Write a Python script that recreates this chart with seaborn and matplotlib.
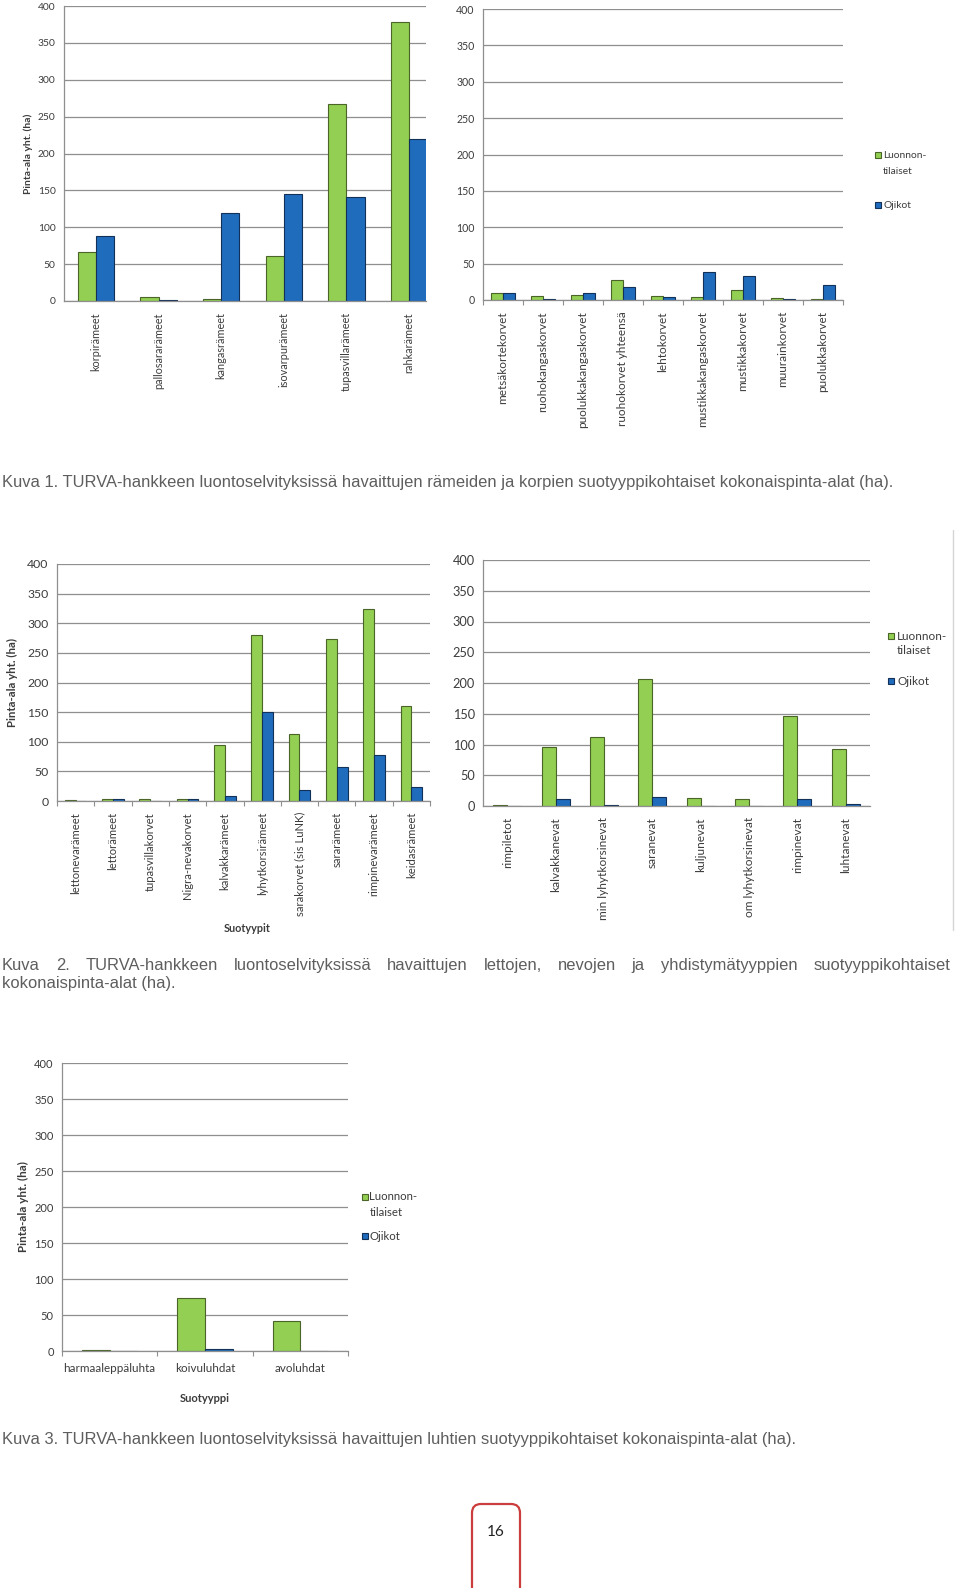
import numpy as np
import pandas as pd
import matplotlib
matplotlib.use("Agg")
import matplotlib.pyplot as plt
import seaborn as sns
from matplotlib.patches import Rectangle, FancyBboxPatch
from matplotlib.lines import Line2D

sns.set_theme(style="white")
plt.rcParams["font.family"] = ["Lato", "DejaVu Sans"]

# ---------------- data ----------------
series_names = ["Luonnontilaiset", "Ojikot"]
legend_labels = ["Luonnon-", "tilaiset", "Ojikot"]
yticks = [0, 50, 100, 150, 200, 250, 300, 350, 400]
ylabel_text = "Pinta-ala yht. (ha)"

c1_cats = ["korpirämeet", "pallosararämeet", "kangasrämeet", "isovarpurämeet",
           "tupasvillarämeet", "rahkarämeet"]
c1_nat = [67, 6, 3, 61, 267, 378]
c1_dit = [88, 1, 119, 145, 141, 220]

c2_cats = ["metsäkortekorvet", "ruohokangaskorvet", "puolukkakangaskorvet",
           "ruohokorvet yhteensä", "lehtokorvet", "mustikkakangaskorvet",
           "mustikkakorvet", "muurainkorvet", "puolukkakorvet"]
c2_nat = [9, 5, 7, 27, 5, 4, 14, 3, 1]
c2_dit = [9, 1, 10, 18, 4, 39, 33, 1, 20]

c3_cats = ["lettonevarämeet", "lettorämeet", "tupasvillakorvet", "Nigra-nevakorvet",
           "kalvakkarämeet", "lyhytkorsirämeet", "sarakorvet (sis LuNK)", "sararämeet",
           "rimpinevarämeet", "keidasrämeet"]
c3_nat = [2, 3, 4, 3, 95, 280, 113, 274, 324, 161]
c3_dit = [0, 3, 0, 3, 8, 150, 19, 58, 77, 24]

c4_cats = ["rimpiletot", "kalvakkanevat", "min lyhytkorsinevat", "saranevat",
           "kuljunevat", "om lyhytkorsinevat", "rimpinevat", "luhtanevat"]
c4_nat = [1, 96, 112, 207, 13, 11, 146, 93]
c4_dit = [0, 11, 2, 15, 0, 0, 11, 4]

c5_cats = ["harmaaleppäluhta", "koivuluhdat", "avoluhdat"]
c5_nat = [1, 73, 42]
c5_dit = [0, 3, 0]

cap1 = "Kuva 1. TURVA-hankkeen luontoselvityksissä havaittujen rämeiden ja korpien suotyyppikohtaiset kokonaispinta-alat (ha)."
cap2a = "Kuva 2. TURVA-hankkeen luontoselvityksissä havaittujen lettojen, nevojen ja yhdistymätyyppien suotyyppikohtaiset"
cap2b = "kokonaispinta-alat (ha)."
cap3 = "Kuva 3. TURVA-hankkeen luontoselvityksissä havaittujen luhtien suotyyppikohtaiset kokonaispinta-alat (ha)."
page_no = "16"

xlabel3 = "Suotyypit"
xlabel5 = "Suotyyppi"

# ---------------- style ----------------
GREEN = "#92CF52"
BLUE = "#1F6CBD"
GREEN_EDGE = "#4A6527"
BLUE_EDGE = "#123158"
GRID = "#8f8f8f"
TXT = "#3c3c3c"
CAP = "#5e5e5e"

W, H = 960, 1588
fig = plt.figure(figsize=(W / 100, H / 100), dpi=100)


def px_axes(x0, y0, x1, y1):
    return fig.add_axes([x0 / W, 1 - y1 / H, (x1 - x0) / W, (y1 - y0) / H])


def bar_chart(ax, cats, nat, dit, ytick_fs, xtick_fs, rot=90, bound_ticks=False,
              xlim=None):
    n = len(cats)
    df = pd.DataFrame({
        "cat": cats + cats,
        "val": nat + dit,
        "series": [series_names[0]] * n + [series_names[1]] * n,
    })
    sns.barplot(data=df, x="cat", y="val", hue="series", order=cats,
                hue_order=series_names, palette=[GREEN, BLUE], saturation=1,
                width=0.58, gap=0, errorbar=None, legend=False, ax=ax)
    for cont, ec in zip(ax.containers, [GREEN_EDGE, BLUE_EDGE]):
        for p in cont:
            p.set_edgecolor(ec)
            p.set_linewidth(0.8)
    ax.set_ylim(0, 400)
    ax.set_yticks(yticks)
    ax.set_yticklabels([str(v) for v in yticks], fontsize=ytick_fs, color=TXT)
    if xlim is None:
        ax.set_xlim(-0.5, n - 0.5)
    else:
        ax.set_xlim(*xlim)
    ax.set_xticks(range(n))
    ax.set_xticklabels(cats, rotation=rot, fontsize=xtick_fs, color=TXT,
                       va="top", ha="center")
    ax.tick_params(axis="x", length=0, pad=8)
    ax.tick_params(axis="y", length=0, pad=6)
    if bound_ticks:
        ax.set_xticks(np.arange(-0.5, n, 1.0), minor=True)
        ax.tick_params(axis="x", which="minor", length=3.5, width=0.8,
                       color=GRID, direction="out", bottom=True)
    ax.yaxis.grid(True, color=GRID, linewidth=0.9)
    ax.xaxis.grid(False)
    ax.set_axisbelow(True)
    for s in ["top", "right"]:
        ax.spines[s].set_visible(False)
    for s in ["left", "bottom"]:
        ax.spines[s].set_color(GRID)
        ax.spines[s].set_linewidth(0.9)
    ax.set_xlabel("")
    ax.set_ylabel("")
    ax.patch.set_alpha(0)


def set_ylabel(ax, fs, xfrac):
    ax.set_ylabel(ylabel_text, fontsize=fs, fontweight="bold", color=TXT)
    ax.yaxis.set_label_coords(xfrac, 0.5)


def manual_legend(xsq, sq, y1, y2, y3, xtext, fs):
    for yc, fc, ec, in [(y1, GREEN, GREEN_EDGE), (y3, BLUE, BLUE_EDGE)]:
        fig.add_artist(Rectangle((xsq / W, 1 - (yc + sq / 2) / H), sq / W, sq / H,
                                 transform=fig.transFigure, facecolor=fc,
                                 edgecolor=ec, linewidth=0.8))
    for yc, t in zip([y1, y2, y3], legend_labels):
        fig.text(xtext / W, 1 - yc / H, t, fontsize=fs, color=TXT,
                 ha="left", va="center")


# ---- chart 1 ----
ax1 = px_axes(64, 6, 426, 301)
bar_chart(ax1, c1_cats, c1_nat, c1_dit, 7.4, 7.8, xlim=(-0.51, 5.27))
set_ylabel(ax1, 7.4, -0.085)

# ---- chart 2 ----
ax2 = px_axes(483, 9, 843, 300)
bar_chart(ax2, c2_cats, c2_nat, c2_dit, 7.6, 8.5, bound_ticks=True)
manual_legend(875, 6, 155, 171.5, 205, 883, 7.4)

# ---- chart 3 ----
ax3 = px_axes(57, 564, 430, 801)
bar_chart(ax3, c3_cats, c3_nat, c3_dit, 8.8, 8.1, bound_ticks=True)
set_ylabel(ax3, 8.2, -0.105)
ax3.set_xlabel(xlabel3, fontsize=7.8, fontweight="bold", color=TXT)
ax3.xaxis.set_label_coords(0.51, -0.515)

# ---- chart 4 ----
ax4 = px_axes(483, 560, 870, 806)
bar_chart(ax4, c4_cats, c4_nat, c4_dit, 9.2, 8.6)
manual_legend(887.5, 6.5, 636, 651, 681, 897, 8.5)

# ---- chart 5 ----
ax5 = px_axes(62, 1063, 348, 1351)
bar_chart(ax5, c5_cats, c5_nat, c5_dit, 8.0, 8.4, rot=0, bound_ticks=True)
ax5.tick_params(axis="x", pad=9)
set_ylabel(ax5, 8.4, -0.115)
ax5.set_xlabel(xlabel5, fontsize=8.0, fontweight="bold", color=TXT)
ax5.xaxis.set_label_coords(0.5, -0.145)
manual_legend(361.5, 6.0, 1196.5, 1213, 1236, 369.5, 8.2)

# faint vertical rule at right of chart block 2
fig.add_artist(Line2D([953 / W, 953 / W], [1 - 530 / H, 1 - 930 / H],
                      transform=fig.transFigure, color="#d6d6d6", linewidth=1))

# ---------------- captions ----------------
CAP_FAMILY = ["Liberation Sans", "DejaVu Sans"]
renderer = fig.canvas.get_renderer()


def text_width(t):
    return t.get_window_extent(renderer=renderer).width


t1 = fig.text(2 / W, 1 - 487 / H, cap1, fontsize=10, color=CAP,
              family=CAP_FAMILY, ha="left", va="baseline")
cap_fs = 10 * 889 / text_width(t1)
t1.set_fontsize(cap_fs)

# justified first line of caption 2
words = cap2a.split(" ")
wts = []
for w in words:
    tt = fig.text(0, 0, w, fontsize=cap_fs, family=CAP_FAMILY)
    wts.append(text_width(tt))
    tt.remove()
gapw = (948 - sum(wts)) / (len(words) - 1)
xc = 2.0
for w, ww in zip(words, wts):
    fig.text(xc / W, 1 - 970 / H, w, fontsize=cap_fs, color=CAP,
             family=CAP_FAMILY, ha="left", va="baseline")
    xc += ww + gapw
fig.text(2 / W, 1 - 988 / H, cap2b, fontsize=cap_fs, color=CAP,
         family=CAP_FAMILY, ha="left", va="baseline")

fig.text(2 / W, 1 - 1444 / H, cap3, fontsize=cap_fs, color=CAP,
         family=CAP_FAMILY, ha="left", va="baseline")

# ---------------- page number box ----------------
box = FancyBboxPatch((472 / 100, -0.3), 48 / 100, (1588 - 1504) / 100 + 0.3,
                     boxstyle="round,pad=0,rounding_size=0.09",
                     transform=fig.dpi_scale_trans, facecolor="white",
                     edgecolor="#cc3d3d", linewidth=1.6, clip_on=False)
fig.add_artist(box)
fig.text(496 / W, 1 - 1531.5 / H, page_no, fontsize=11, color="#222222",
         ha="center", va="center")

fig.savefig("out.png", dpi=100, facecolor="white")
